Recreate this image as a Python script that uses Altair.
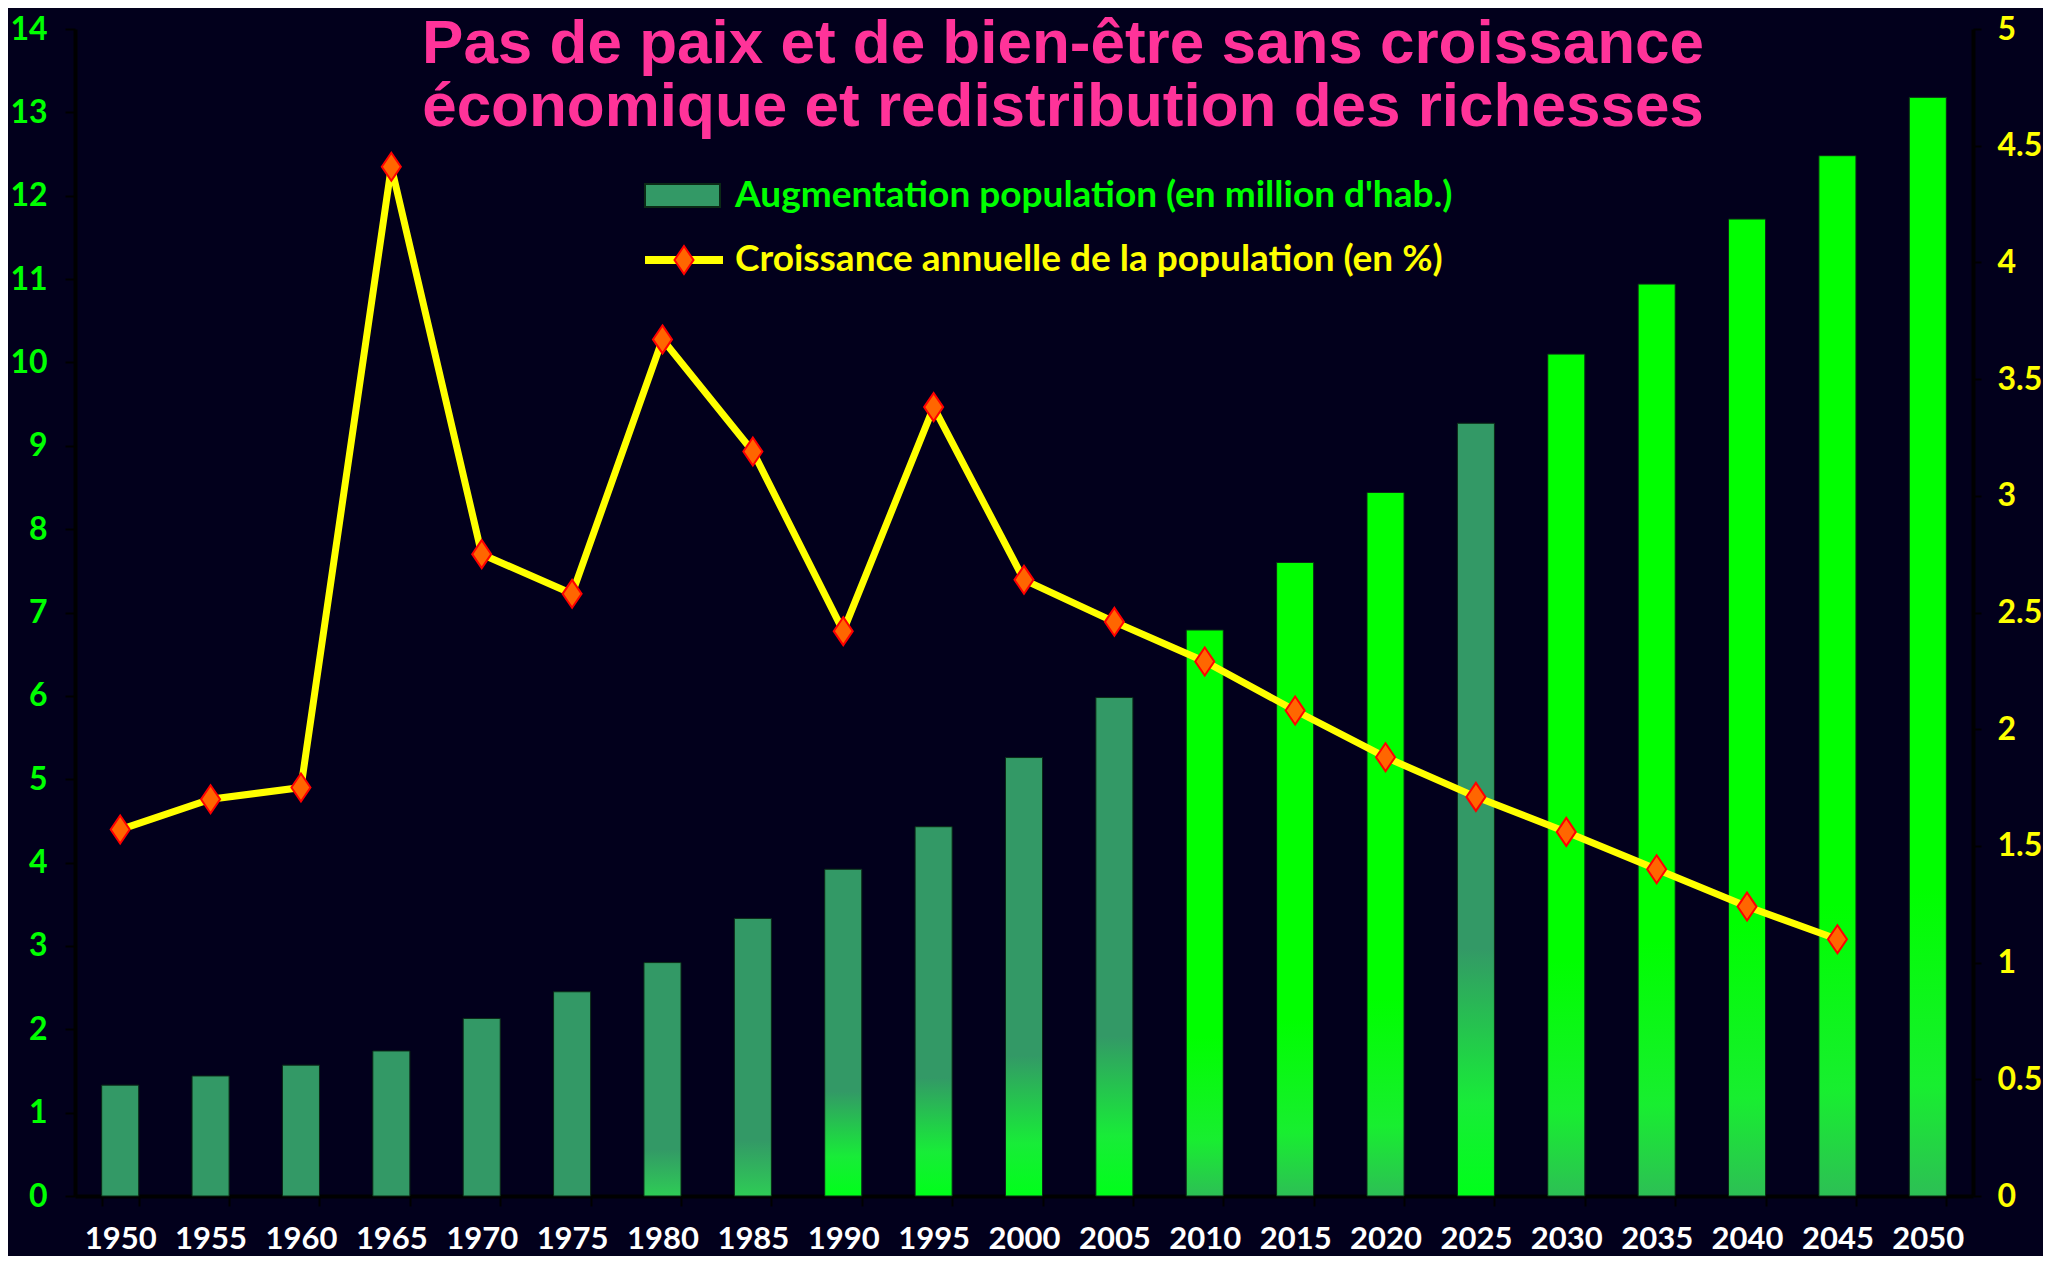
import altair as alt
import pandas as pd

years = [1950, 1955, 1960, 1965, 1970, 1975, 1980, 1985, 1990, 1995, 2000,
         2005, 2010, 2015, 2020, 2025, 2030, 2035, 2040, 2045, 2050]
pop_increase = [1.33, 1.44, 1.57, 1.74, 2.13, 2.45, 2.80, 3.33, 3.92, 4.43, 5.26,
                5.98, 6.79, 7.60, 8.44, 9.27, 10.10, 10.94, 11.72, 12.48, 13.18]
growth = [1.57, 1.70, 1.75, 4.41, 2.75, 2.58, 3.67, 3.19, 2.42, 3.38, 2.64,
          2.46, 2.29, 2.08, 1.88, 1.71, 1.56, 1.40, 1.24, 1.10, None]

title_lines = ["Pas de paix et de bien-être sans croissance",
               "économique et redistribution des richesses"]
legend_labels = ["Augmentation population (en million d'hab.)",
                 "Croissance annuelle de la population (en %)"]

df = pd.DataFrame({"year": years, "pop": pop_increase, "growth": growth})

LBL = "Lato, sans-serif"
BG = "#02001c"
SEAGREEN = "#339966"
BRIGHT = "#00ff00"
YELLOW = "#ffff00"
DIAMOND = "M0,-1L0.68,0L0,1L-0.68,0Z"

x_enc = alt.X(
    "year:O",
    scale=alt.Scale(paddingInner=0.59, paddingOuter=0.295),
    axis=alt.Axis(title=None, labelAngle=0, tickBand="extent", labelColor="white",
                  labelFont=LBL, labelFontSize=31, labelFontWeight="bold",
                  labelPadding=18, tickSize=10, tickWidth=2, tickColor="black",
                  domainColor="black", domainWidth=4),
)
y_bar = alt.Y(
    "pop:Q",
    scale=alt.Scale(domain=[0, 14], nice=False),
    axis=alt.Axis(title=None, values=list(range(15)), grid=False, labelColor="#00ff00",
                  labelFont=LBL, labelFontSize=32, labelFontWeight="bold",
                  labelPadding=18, tickSize=10, tickWidth=2, tickColor="black",
                  domainColor="black", domainWidth=4),
)
y_line = alt.Y(
    "growth:Q",
    scale=alt.Scale(domain=[0, 5], nice=False),
    axis=alt.Axis(title=None, orient="right", values=[i * 0.5 for i in range(11)],
                  format="~g", grid=False, labelColor=YELLOW, labelFont=LBL,
                  labelFontSize=32, labelFontWeight="bold", labelPadding=16,
                  tickSize=8, tickWidth=2, tickColor="black", domainColor="black",
                  domainWidth=4),
)


def grad(stops):
    return alt.Gradient(
        gradient="linear", x1=0, x2=0, y1=0, y2=1,
        stops=[alt.GradientStop(color=c, offset=o) for o, c in stops],
    )


base = alt.Chart(df)
bar_plain = base.transform_filter("datum.year < 1980").mark_bar(
    color=SEAGREEN, stroke="#0b2a16", strokeWidth=1).encode(x=x_enc, y=y_bar)
bar_soft = base.transform_filter("datum.year >= 1980 && datum.year <= 1985").mark_bar(
    color=grad([(0, SEAGREEN), (0.8, SEAGREEN), (1, "#2ecc55")]),
    stroke="#0b2a16", strokeWidth=1).encode(x=x_enc, y=y_bar)
bar_mid = base.transform_filter(
    "(datum.year >= 1990 && datum.year <= 2005) || datum.year == 2025").mark_bar(
    color=grad([(0, SEAGREEN), (0.68, SEAGREEN), (0.88, "#18ec38"), (1, "#00ff1a")]),
    stroke="#0b2a16", strokeWidth=1).encode(x=x_enc, y=y_bar)
bar_bright = base.transform_filter(
    "datum.year >= 2010 && datum.year != 2025").mark_bar(
    color=grad([(0, BRIGHT), (0.72, BRIGHT), (0.9, "#18ee30"), (1, "#2dbf55")]),
    stroke="#0b2a16", strokeWidth=1).encode(x=x_enc, y=y_bar)

bars = alt.layer(bar_plain, bar_soft, bar_mid, bar_bright)

line_base = base.transform_filter("isValid(datum.growth)")
line = line_base.mark_line(color=YELLOW, strokeWidth=7).encode(x=x_enc, y=y_line)
pts = line_base.mark_point(shape=DIAMOND, filled=True, fill="#ff6600", stroke="#ff0000",
                           strokeWidth=2, size=784, opacity=1).encode(x=x_enc, y=y_line)
lines = alt.layer(line, pts)

one = pd.DataFrame({"k": [0]})
TFONT = "Liberation Sans, Arial, sans-serif"
t1 = alt.Chart(pd.DataFrame({"t": [title_lines[0]]})).mark_text(
    font=TFONT, fontSize=62, fontWeight="bold",
    color="#ff3399", align="center", baseline="middle").encode(
    text="t:N", x=alt.value(988), y=alt.value(15))
t2 = alt.Chart(pd.DataFrame({"t": [title_lines[1]]})).mark_text(
    font=TFONT, fontSize=62, fontWeight="bold",
    color="#ff3399", align="center", baseline="middle").encode(
    text="t:N", x=alt.value(988), y=alt.value(78))

leg_rect = alt.Chart(one).mark_rect(color=SEAGREEN, stroke="#0b2a16", strokeWidth=2).encode(
    x=alt.value(570), x2=alt.value(645), y=alt.value(155), y2=alt.value(178))
leg_rule = alt.Chart(one).mark_rule(color=YELLOW, strokeWidth=8).encode(
    x=alt.value(570), x2=alt.value(648), y=alt.value(231))
leg_pt = alt.Chart(one).mark_point(shape=DIAMOND, filled=True, fill="#ff6600",
                                   stroke="#ff0000", strokeWidth=2, size=784,
                                   opacity=1).encode(x=alt.value(609), y=alt.value(231))
leg_t1 = alt.Chart(pd.DataFrame({"t": [legend_labels[0]]})).mark_text(
    font=LBL, fontSize=37, fontWeight="bold", color="#00ff00", align="left",
    baseline="middle").encode(text="t:N", x=alt.value(660), y=alt.value(167))
leg_t2 = alt.Chart(pd.DataFrame({"t": [legend_labels[1]]})).mark_text(
    font=LBL, fontSize=37, fontWeight="bold", color=YELLOW, align="left",
    baseline="middle").encode(text="t:N", x=alt.value(660), y=alt.value(231))

chart = alt.layer(
    bars, lines, t1, t2, leg_rect, leg_rule, leg_pt, leg_t1, leg_t2
).resolve_scale(y="independent").properties(
    width=1898, height=1167,
    autosize=alt.AutoSizeParams(type="none"),
    padding={"left": 67, "top": 21, "right": 70, "bottom": 60},
    background=BG,
).configure_view(stroke=None)

chart.save("out.html", embed_options={"renderer": "svg", "actions": False})
